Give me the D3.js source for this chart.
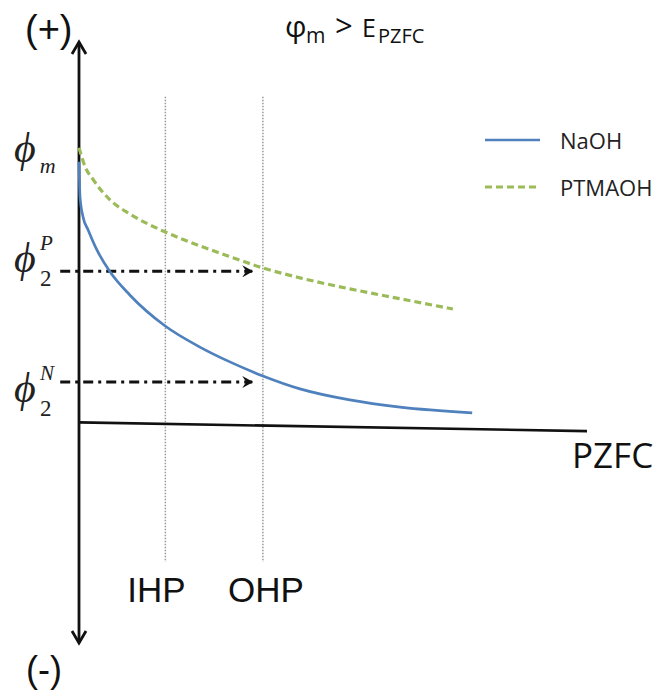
<!DOCTYPE html>
<html>
<head>
<meta charset="utf-8">
<script src="https://cdn.jsdelivr.net/npm/d3@7"></script>
<style>
  body { margin: 0; background: #fff; }
  svg { display: block; }
</style>
</head>
<body>
<div id="chart"></div>
<script>
// distance from the electrode (arbitrary units) and potential (arbitrary units)
const naohX = [0, 0.2, 0.8, 1.8, 3.5, 6.1, 10.0, 16.9, 23.8, 29.7, 36.2, 43.5, 53.3, 63.2, 77.4];
const naohY = [68.5, 59.3, 54.0, 50.6, 45.4, 39.6, 33.5, 25.4, 19.8, 15.9, 12.2, 8.8, 5.9, 4.0, 2.5];
const ptmaohX = [0, 1.2, 2.8, 6.1, 10.0, 16.9, 23.8, 30.3, 36.2, 43.5, 53.3, 63.2, 73.6];
const ptmaohY = [72.2, 67.2, 63.8, 58.5, 54.8, 50.1, 46.4, 43.3, 40.6, 38.0, 35.1, 32.5, 29.8];
const planeNames = ["IHP", "OHP"];
const planeX = [17.0, 36.2];
const phi2Names = ["P", "N"];
const phi2Values = [39.7, 10.6];
const pzfcX = [0, 100];
const pzfcY = [0, -2.3];
const seriesNames = ["NaOH", "PTMAOH"];

const width = 667, height = 696;
const x = d3.scaleLinear().domain([0, 100]).range([79, 587]);
const y = d3.scaleLinear().domain([-58, 100]).range([643, 42]);

const svg = d3.select("#chart").append("svg")
    .attr("width", width)
    .attr("height", height);

const defs = svg.append("defs");
defs.append("marker")
    .attr("id", "dashhead")
    .attr("viewBox", "0 0 12 12")
    .attr("refX", 10).attr("refY", 6)
    .attr("markerWidth", 12).attr("markerHeight", 12)
    .attr("markerUnits", "userSpaceOnUse")
    .attr("orient", "auto")
    .append("path")
    .attr("d", "M0,0 L11,6 L0,12 L4,6 Z")
    .attr("fill", "#111");

// dotted IHP / OHP planes
svg.selectAll(".plane")
    .data(planeX)
    .enter().append("line")
    .attr("class", "plane")
    .attr("x1", d => x(d)).attr("x2", d => x(d))
    .attr("y1", y(85.6)).attr("y2", y(-36.7))
    .attr("stroke", "#999")
    .attr("stroke-width", 1.5)
    .attr("stroke-dasharray", "1.5,1.5");

svg.selectAll(".planeLabel")
    .data(planeNames)
    .enter().append("text")
    .attr("x", (d, i) => x(planeX[i]) - 9 + i * 12)
    .attr("y", 602)
    .attr("text-anchor", "middle")
    .attr("font-family", "Liberation Sans, Arial, sans-serif")
    .attr("font-size", 35)
    .attr("fill", "#111")
    .text(d => d);

// PZFC line
const line = d3.line().x(d => x(d[0])).y(d => y(d[1]));
svg.append("path")
    .attr("d", line(d3.zip(pzfcX, pzfcY)))
    .attr("fill", "none")
    .attr("stroke", "#111")
    .attr("stroke-width", 2.6);

svg.append("text")
    .attr("x", 572).attr("y", 468)
    .attr("font-family", "Open Sans, sans-serif")
    .attr("font-size", 35)
    .attr("fill", "#111")
    .text("PZFC");

// vertical axis with arrows at both ends
const ax = x(0);
svg.append("line")
    .attr("x1", ax).attr("x2", ax)
    .attr("y1", y(100)).attr("y2", y(-58))
    .attr("stroke", "#111")
    .attr("stroke-width", 2.8);
svg.append("path")
    .attr("d", `M${ax - 7},${y(100) + 12} L${ax},${y(100)} L${ax + 7},${y(100) + 12}`)
    .attr("fill", "none").attr("stroke", "#111").attr("stroke-width", 2.8);
svg.append("path")
    .attr("d", `M${ax - 7},${y(-58) - 12} L${ax},${y(-58)} L${ax + 7},${y(-58) - 12}`)
    .attr("fill", "none").attr("stroke", "#111").attr("stroke-width", 2.8);

svg.append("text")
    .attr("x", 25).attr("y", 42)
    .attr("font-family", "Liberation Sans, Arial, sans-serif")
    .attr("font-size", 38)
    .attr("fill", "#111")
    .text("(+)");
svg.append("text")
    .attr("x", 26).attr("y", 682)
    .attr("font-family", "Liberation Sans, Arial, sans-serif")
    .attr("font-size", 36)
    .attr("fill", "#111")
    .text("(-)");

// dash-dot arrows for phi2
svg.selectAll(".phi2arrow")
    .data(phi2Values)
    .enter().append("line")
    .attr("x1", x(-3.7)).attr("x2", x(34.1))
    .attr("y1", d => y(d)).attr("y2", d => y(d))
    .attr("stroke", "#111")
    .attr("stroke-width", 3)
    .attr("stroke-dasharray", "10,5,3,5")
    .attr("marker-end", "url(#dashhead)");

// curves
const curve = d3.line()
    .x(d => x(d[0])).y(d => y(d[1]))
    .curve(d3.curveMonotoneX);

svg.append("path")
    .attr("d", curve(d3.zip(naohX, naohY)))
    .attr("fill", "none")
    .attr("stroke", "#4f81bd")
    .attr("stroke-width", 2.7);

svg.append("path")
    .attr("d", curve(d3.zip(ptmaohX, ptmaohY)))
    .attr("fill", "none")
    .attr("stroke", "#9bbb59")
    .attr("stroke-width", 3.2)
    .attr("stroke-dasharray", "7,4");

// left labels
const serif = "Liberation Serif, Times New Roman, serif";
svg.append("text")
    .attr("x", 14).attr("y", y(71) + 10)
    .attr("font-family", serif).attr("font-style", "italic")
    .attr("font-size", 42).attr("fill", "#222")
    .text("\u03D5")
    .append("tspan")
    .attr("dx", 4).attr("dy", 11)
    .attr("font-size", 22)
    .text("m");

phi2Names.forEach((n, i) => {
    const cy = y(phi2Values[i]) + (i === 0 ? -11 : 8);
    const t = svg.append("text")
        .attr("font-family", serif).attr("font-style", "italic")
        .attr("fill", "#222");
    t.append("tspan").attr("x", 14).attr("y", cy + 12).attr("font-size", 42).text("\u03D5");
    t.append("tspan").attr("x", 40).attr("y", cy - 10).attr("font-size", 21).text(n);
    t.append("tspan").attr("x", 40).attr("y", cy + 26).attr("font-size", 23)
        .attr("font-style", "normal").text("2");
});

// title
const title = svg.append("text")
    .attr("y", 37)
    .attr("font-family", "Open Sans, sans-serif")
    .attr("font-size", 25)
    .attr("fill", "#111");
title.append("tspan").attr("x", 285).attr("font-size", 30).text("\u03C6");
title.append("tspan").attr("x", 306).attr("dy", 6).attr("font-size", 21).text("m");
title.append("tspan").attr("x", 335).attr("dy", -6).attr("font-size", 31).text(">");
title.append("tspan").attr("x", 362).attr("font-size", 25).text("E");
title.append("tspan").attr("x", 378).attr("dy", 6).attr("font-size", 20).text("PZFC");

// legend
const legend = svg.selectAll(".legend")
    .data(seriesNames)
    .enter().append("g")
    .attr("transform", (d, i) => `translate(485, ${140 + i * 47})`);
legend.append("line")
    .attr("x1", 0).attr("x2", 55)
    .attr("stroke", (d, i) => i === 0 ? "#4f81bd" : "#9bbb59")
    .attr("stroke-width", (d, i) => i === 0 ? 2.7 : 3.2)
    .attr("stroke-dasharray", (d, i) => i === 0 ? null : "7,4");
legend.append("text")
    .attr("x", 75).attr("y", 9)
    .attr("font-family", "Open Sans, sans-serif")
    .attr("font-size", 22)
    .attr("fill", "#222")
    .text(d => d);
</script>
</body>
</html>
